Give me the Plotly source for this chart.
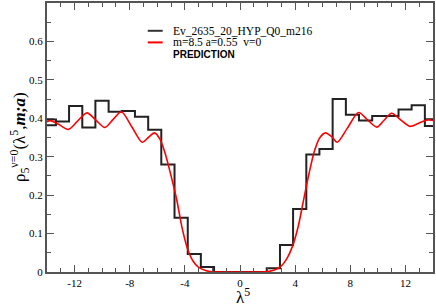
import plotly.graph_objects as go

# Histogram (black step line): bin edges and bin heights
hist_edges = [-14.31, -13.35, -12.40, -11.44, -10.49, -9.53, -8.57, -7.62, -6.66, -5.71,
              -4.75, -3.79, -2.84, -1.88, -0.93, 0.03, 0.98, 1.94, 2.90, 3.85,
              4.81, 5.76, 6.72, 7.68, 8.63, 9.59, 10.54, 11.50, 12.45, 13.41, 14.37]
hist_heights = [0.382, 0.3915, 0.432, 0.376, 0.4455, 0.417, 0.419, 0.404, 0.370, 0.280,
                0.141, 0.047, 0.013, 0.0, 0.0, 0.0, 0.0, 0.010, 0.070, 0.164,
                0.306, 0.320, 0.450, 0.409, 0.394, 0.406, 0.406, 0.423, 0.434, 0.380]
# extra outline pieces at both ends of the histogram
cap_x = [-14.31, -13.35, -13.35, None, 13.41, 14.37]
cap_y = [0.397, 0.397, 0.382, None, 0.397, 0.397]

# Prediction curve (red)
pred_x = [-14.0, -13.75, -13.1, -12.45, -11.8, -11.1, -10.45, -9.8, -9.2, -8.6,
          -7.85, -7.1, -6.65, -6.2, -5.8, -5.4, -5.0, -4.6, -4.2, -3.8,
          -3.4, -3.0, -2.5, -2.0, -1.5, 0.0, 1.5, 2.0, 2.5, 3.0,
          3.4, 3.8, 4.2, 4.6, 5.0, 5.4, 5.8, 6.2, 6.65, 7.05,
          7.8, 8.6, 9.25, 9.93, 10.45, 11.0, 11.65, 12.33, 13.0, 13.65, 14.0]
pred_y = [0.391, 0.394, 0.383, 0.371, 0.392, 0.414, 0.395, 0.376, 0.397, 0.417,
          0.378, 0.3375, 0.350, 0.362, 0.345, 0.305, 0.250, 0.190, 0.115, 0.060,
          0.028, 0.012, 0.004, 0.0005, 0.0, 0.0, 0.0, 0.001, 0.005, 0.016,
          0.035, 0.066, 0.115, 0.185, 0.255, 0.315, 0.350, 0.362, 0.352, 0.3375,
          0.375, 0.415, 0.396, 0.377, 0.395, 0.413, 0.396, 0.379, 0.388, 0.396, 0.394]

x_tickvals = [-12, -8, -4, 0, 4, 8, 12]
x_ticktext = ["-12", "-8", "-4", "0", "4", "8", "12"]
y_tickvals = [0, 0.1, 0.2, 0.3, 0.4, 0.5, 0.6]
y_ticktext = ["0", "0.1", "0.2", "0.3", "0.4", "0.5", "0.6"]

legend_names = ["Ev_2635_20_HYP_Q0_m216", "m=8.5 a=0.55  v=0"]
legend_note = "PREDICTION"

serif = "'Liberation Serif', 'Times New Roman', Times, serif"
sans = "'Liberation Sans', Arial, Helvetica, sans-serif"

fig = go.Figure()
fig.add_trace(go.Scatter(x=hist_edges, y=hist_heights + [hist_heights[-1]],
                         mode="lines", line=dict(shape="hv", color="#222", width=2),
                         showlegend=False, hoverinfo="skip"))
fig.add_trace(go.Scatter(x=cap_x, y=cap_y, mode="lines",
                         line=dict(color="#222", width=2), showlegend=False, hoverinfo="skip"))
fig.add_trace(go.Scatter(x=pred_x, y=pred_y, mode="lines",
                         line=dict(shape="spline", smoothing=0.8, color="#ff0000", width=1.6),
                         showlegend=False, hoverinfo="skip"))

axis_common = dict(showgrid=False, zeroline=False, showline=True, linecolor="#555",
                   linewidth=2, mirror="allticks", ticks="inside", tickcolor="#555",
                   tickwidth=1.2, tickfont=dict(family=serif, size=11, color="black"))

fig.update_xaxes(range=[-14, 14], tickvals=x_tickvals, ticktext=x_ticktext, ticklen=7,
                 minor=dict(dtick=1, tick0=0, ticklen=4, ticks="inside", tickcolor="#555"),
                 **axis_common)
fig.update_yaxes(range=[0, 0.7], tickvals=y_tickvals, ticktext=y_ticktext, ticklen=7,
                 minor=dict(dtick=0.05, tick0=0, ticklen=4, ticks="inside", tickcolor="#555"),
                 **axis_common)

L, R, T, B = 47, 2, 1, 35
W, H = 436, 307
pw, ph = W - L - R, H - T - B


def px(xp):
    return (xp - L) / pw


def py(yp):
    return (H - B - yp) / ph


shapes = [
    dict(type="line", xref="paper", yref="paper", x0=px(148), x1=px(163), y0=py(29), y1=py(29),
         line=dict(color="#333", width=2)),
    dict(type="line", xref="paper", yref="paper", x0=px(148), x1=px(163), y0=py(40.7), y1=py(40.7),
         line=dict(color="#ff0000", width=2)),
]
annotations = [
    dict(xref="paper", yref="paper", x=px(171), y=py(29), text=legend_names[0], showarrow=False,
         xanchor="left", yanchor="middle", font=dict(family=serif, size=11.5, color="black")),
    dict(xref="paper", yref="paper", x=px(171), y=py(40.7), text=legend_names[1], showarrow=False,
         xanchor="left", yanchor="middle", font=dict(family=serif, size=11.5, color="black")),
    dict(xref="paper", yref="paper", x=px(171), y=py(52.7), text="<b>" + legend_note + "</b>",
         showarrow=False, xanchor="left", yanchor="middle",
         font=dict(family=sans, size=10, color="black")),
    dict(xref="paper", yref="paper", x=px(244), y=py(296), text="λ<sup>5</sup>", showarrow=False,
         xanchor="center", yanchor="middle", font=dict(family=serif, size=17, color="black")),
    dict(xref="paper", yref="paper", x=px(19), y=py(136),
         text="ρ<sub>5</sub><sup>ν=0</sup>(λ<sup>5</sup>,<b><i>m;a</i></b>)", showarrow=False,
         textangle=-90, xanchor="center", yanchor="middle",
         font=dict(family=serif, size=17, color="black")),
]

fig.update_layout(width=W, height=H, margin=dict(l=L, r=R, t=T, b=B),
                  paper_bgcolor="white", plot_bgcolor="white",
                  shapes=shapes, annotations=annotations, showlegend=False)

fig.write_html("out.html", config={"displayModeBar": False},
               post_script="document.body.style.margin='0';")
